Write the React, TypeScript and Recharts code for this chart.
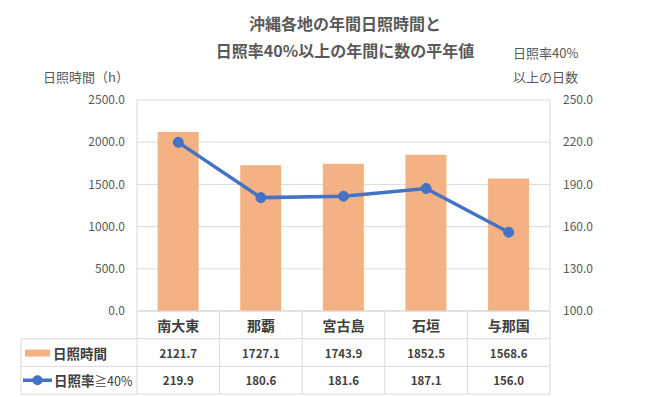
import React from 'react';
import { ComposedChart, Bar, Line, XAxis, YAxis, CartesianGrid } from 'recharts';

const categories = ['南大東', '那覇', '宮古島', '石垣', '与那国'];
const sunshineHours = [2121.7, 1727.1, 1743.9, 1852.5, 1568.6];
const sunnyDays = [219.9, 180.6, 181.6, 187.1, 156.0];
const hoursTicks = [0, 500, 1000, 1500, 2000, 2500];
const daysTicks = [100, 130, 160, 190, 220, 250];

const FONT = '"Noto Sans CJK JP", "Noto Sans", sans-serif';
const GRID = '#D9D9D9';
const BAR_COLOR = '#F4B183';
const LINE_COLOR = '#4472C4';
const ROW_H = 27.7;
const LEGEND_W = 116;

const data = categories.map((name, i) => ({
  name,
  hours: sunshineHours[i],
  days: sunnyDays[i],
}));

const fmt = (v: number) => v.toFixed(1);

function TableTick(props: any) {
  const { x, y, payload, index, width } = props;
  const band = (width || 413) / categories.length;
  const left = x - band / 2;
  const right = x + band / 2;
  const bottom = y + ROW_H * 3;
  const isFirst = index === 0;
  const isLast = index === categories.length - 1;
  const lineLeft = isFirst ? left - LEGEND_W : left;

  return (
    <g fontFamily={FONT}>
      <line x1={left} x2={right} y1={y} y2={y} stroke={GRID} />
      <line x1={lineLeft} x2={right} y1={y + ROW_H} y2={y + ROW_H} stroke={GRID} />
      <line x1={lineLeft} x2={right} y1={y + ROW_H * 2} y2={y + ROW_H * 2} stroke={GRID} />
      <line x1={lineLeft} x2={right} y1={bottom} y2={bottom} stroke={GRID} />
      <line x1={left} x2={left} y1={y} y2={bottom} stroke={GRID} />
      {isLast && <line x1={right} x2={right} y1={y} y2={bottom} stroke={GRID} />}
      <text x={x} y={y + ROW_H / 2} textAnchor="middle" dominantBaseline="central"
        fontSize={14} fontWeight="bold" fill="#404040">
        {payload.value}
      </text>
      <text x={x} y={y + ROW_H * 1.5} textAnchor="middle" dominantBaseline="central"
        fontSize={11.5} fontWeight="bold" fill="#404040">
        {fmt(sunshineHours[index])}
      </text>
      <text x={x} y={y + ROW_H * 2.5} textAnchor="middle" dominantBaseline="central"
        fontSize={11.5} fontWeight="bold" fill="#404040">
        {fmt(sunnyDays[index])}
      </text>
      {isFirst && (
        <g>
          <line x1={lineLeft} x2={lineLeft} y1={y + ROW_H} y2={bottom} stroke={GRID} />
          <rect x={lineLeft + 4} y={y + ROW_H * 1.5 - 3} width={25} height={7} fill={BAR_COLOR} />
          <text x={lineLeft + 32} y={y + ROW_H * 1.5} dominantBaseline="central"
            fontSize={13.5} fontWeight="bold" fill="#404040">
            日照時間
          </text>
          <line x1={lineLeft + 2} x2={lineLeft + 31} y1={y + ROW_H * 2.5} y2={y + ROW_H * 2.5}
            stroke={LINE_COLOR} strokeWidth={3.5} />
          <circle cx={lineLeft + 16.5} cy={y + ROW_H * 2.5} r={5} fill={LINE_COLOR} />
          <text x={lineLeft + 33} y={y + ROW_H * 2.5} dominantBaseline="central"
            fontSize={13.5} fill="#404040">
            <tspan fontWeight="bold">日照率</tspan>
            <tspan fontSize={12.5}>≧40%</tspan>
          </text>
        </g>
      )}
    </g>
  );
}

const label = (extra: React.CSSProperties): React.CSSProperties => ({
  position: 'absolute',
  fontFamily: FONT,
  color: '#595959',
  whiteSpace: 'nowrap',
  ...extra,
});

export default function App() {
  return (
    <div style={{ position: 'absolute', left: 0, top: 0, width: 645, height: 397, background: '#fff' }}>
      <div style={label({ left: 145, width: 400, top: 12, fontSize: 16, fontWeight: 'bold', lineHeight: '22px', textAlign: 'center' })}>
        沖縄各地の年間日照時間と
      </div>
      <div style={label({ left: 145, width: 400, top: 39, fontSize: 16, fontWeight: 'bold', lineHeight: '22px', textAlign: 'center' })}>
        日照率40%以上の年間に数の平年値
      </div>
      <div style={label({ left: 43, top: 67, fontSize: 13, lineHeight: '20px' })}>日照時間（h）</div>
      <div style={label({ left: 513, top: 43, fontSize: 13, lineHeight: '20px' })}>日照率40%</div>
      <div style={label({ left: 513, top: 67, fontSize: 13, lineHeight: '20px' })}>以上の日数</div>
      <ComposedChart
        width={645}
        height={397}
        data={data}
        margin={{ top: 100, right: 35, bottom: 3, left: 77 }}
        barCategoryGap="25%"
      >
        <CartesianGrid yAxisId="left" vertical={false} stroke={GRID} />
        <XAxis
          dataKey="name"
          axisLine={false}
          tickLine={false}
          tickSize={0}
          tickMargin={0}
          height={83}
          interval={0}
          tick={<TableTick />}
        />
        <YAxis
          yAxisId="left"
          domain={[0, 2500]}
          ticks={hoursTicks}
          tickFormatter={fmt}
          axisLine={{ stroke: GRID }}
          tickLine={false}
          tickSize={0}
          tickMargin={12}
          width={60}
          tick={{ fontSize: 12, fill: '#595959', fontFamily: FONT }}
        />
        <YAxis
          yAxisId="right"
          orientation="right"
          domain={[100, 250]}
          ticks={daysTicks}
          tickFormatter={fmt}
          axisLine={{ stroke: GRID }}
          tickLine={false}
          tickSize={0}
          tickMargin={13}
          width={60}
          tick={{ fontSize: 12, fill: '#595959', fontFamily: FONT, textAnchor: 'start' }}
        />
        <Bar yAxisId="left" dataKey="hours" fill={BAR_COLOR} isAnimationActive={false} />
        <Line
          yAxisId="right"
          type="linear"
          dataKey="days"
          stroke={LINE_COLOR}
          strokeWidth={3.5}
          dot={{ r: 5, fill: LINE_COLOR, stroke: LINE_COLOR, strokeWidth: 1 }}
          isAnimationActive={false}
        />
      </ComposedChart>
    </div>
  );
}
